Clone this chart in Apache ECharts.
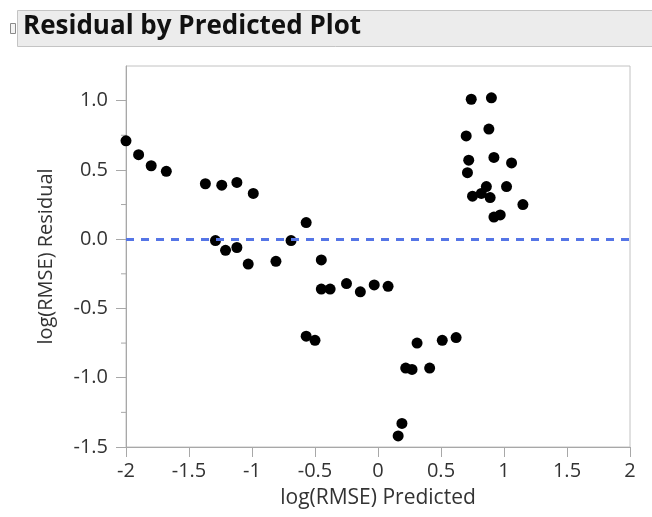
<!DOCTYPE html>
<html>
<head>
<meta charset="utf-8">
<script src="https://cdn.jsdelivr.net/npm/echarts@6/dist/echarts.min.js"></script>
<style>
  html, body { margin: 0; padding: 0; background: #ffffff; }
  #chart { width: 652px; height: 517px; }
</style>
</head>
<body>
<div id="chart"></div>
<script>
// Predicted values (x) and residuals (y) of log(RMSE)
const predicted = [
  -2.00, -1.90, -1.80, -1.68, -1.37, -1.24, -1.12, -0.99,
  -1.29, -1.21, -1.12, -1.03, -0.81, -0.69, -0.57, -0.45,
  -0.45, -0.38, -0.25, -0.14, -0.03, -0.57, -0.50, 0.08,
  0.31, 0.51, 0.62, 0.22, 0.27, 0.41, 0.19, 0.16,
  0.74, 0.90, 0.70, 0.88, 0.72, 0.92, 1.06, 0.71,
  0.86, 1.02, 0.75, 0.82, 0.89, 1.15, 0.92, 0.97
];
const residual = [
  0.71, 0.61, 0.53, 0.49, 0.40, 0.39, 0.41, 0.33,
  -0.01, -0.08, -0.06, -0.18, -0.16, -0.01, 0.12, -0.15,
  -0.36, -0.36, -0.32, -0.38, -0.33, -0.70, -0.73, -0.34,
  -0.75, -0.73, -0.71, -0.93, -0.94, -0.93, -1.33, -1.42,
  1.01, 1.02, 0.745, 0.795, 0.57, 0.59, 0.55, 0.48,
  0.38, 0.38, 0.31, 0.33, 0.30, 0.25, 0.16, 0.175
];

const xTicks = [-2, -1.5, -1, -0.5, 0, 0.5, 1, 1.5, 2];
const yTicks = [-1.5, -1.0, -0.5, 0.0, 0.5, 1.0];
const yMinorTicks = [-1.25, -0.75, -0.25, 0.25, 0.75];

const points = predicted.map((x, i) => [x, residual[i]]);

const chart = echarts.init(document.getElementById('chart'), null, { renderer: 'canvas' });

const labelFont = '"Open Sans", "Noto Sans", sans-serif';

chart.setOption({
  animation: false,
  backgroundColor: '#ffffff',
  graphic: [
    {
      type: 'rect',
      shape: { x: 17.5, y: 10.5, width: 650, height: 36 },
      style: { fill: '#ececec', stroke: '#c4c4c4', lineWidth: 1 },
      silent: true
    },
    {
      type: 'rect',
      shape: { x: 10.5, y: 23.5, width: 5, height: 10 },
      style: { fill: '#f4f4f4', stroke: '#8a8a8a', lineWidth: 1 },
      silent: true
    },
    {
      type: 'text',
      left: 23,
      top: 14,
      style: {
        text: 'Residual by Predicted Plot',
        font: 'bold 26px "Open Sans", "Noto Sans", sans-serif',
        fill: '#111111'
      },
      silent: true
    }
  ],
  grid: {
    left: 126,
    right: 22,
    top: 66,
    bottom: 70,
    show: true,
    borderColor: '#c2c2c2',
    borderWidth: 1,
    backgroundColor: '#ffffff'
  },
  xAxis: {
    type: 'value',
    min: -2,
    max: 2,
    name: 'log(RMSE) Predicted',
    nameLocation: 'middle',
    nameGap: 41,
    nameTextStyle: { fontFamily: labelFont, fontSize: 21, color: '#333333' },
    axisLine: { show: true, onZero: false, lineStyle: { color: '#a8a8a8', width: 1 } },
    axisTick: { show: true, length: 10, lineStyle: { color: '#a8a8a8' }, customValues: xTicks },
    axisLabel: {
      fontFamily: labelFont, fontSize: 20, color: '#333333', margin: 14,
      customValues: xTicks,
      formatter: v => String(v)
    },
    splitLine: { show: false }
  },
  yAxis: {
    type: 'value',
    min: -1.5,
    max: 1.25,
    name: 'log(RMSE) Residual',
    nameLocation: 'middle',
    nameGap: 70,
    nameTextStyle: { fontFamily: labelFont, fontSize: 20, color: '#333333' },
    axisLine: { show: true, onZero: false, lineStyle: { color: '#a8a8a8', width: 1 } },
    axisTick: { show: true, length: 10, lineStyle: { color: '#a8a8a8' }, customValues: yTicks },
    axisLabel: {
      fontFamily: labelFont, fontSize: 20, color: '#333333', margin: 18,
      customValues: yTicks,
      formatter: v => v.toFixed(1)
    },
    splitLine: { show: false }
  },
  series: [
    {
      type: 'scatter',
      data: points,
      symbol: 'circle',
      symbolSize: 11,
      itemStyle: { color: '#000000', opacity: 1 },
      z: 3,
      markLine: {
        silent: true,
        symbol: 'none',
        label: { show: false },
        lineStyle: { color: '#5575e6', width: 3, type: [8, 7], opacity: 1 },
        data: [{ yAxis: 0 }]
      }
    },
    {
      // minor ticks on the residual axis
      type: 'custom',
      silent: true,
      data: yMinorTicks.map(v => [-2, v]),
      renderItem: (params, api) => {
        const p = api.coord([api.value(0), api.value(1)]);
        return {
          type: 'line',
          shape: { x1: p[0] - 5, y1: p[1], x2: p[0], y2: p[1] },
          style: { stroke: '#a8a8a8', lineWidth: 1 }
        };
      },
      clip: false,
      z: 1
    }
  ]
});
</script>
</body>
</html>
